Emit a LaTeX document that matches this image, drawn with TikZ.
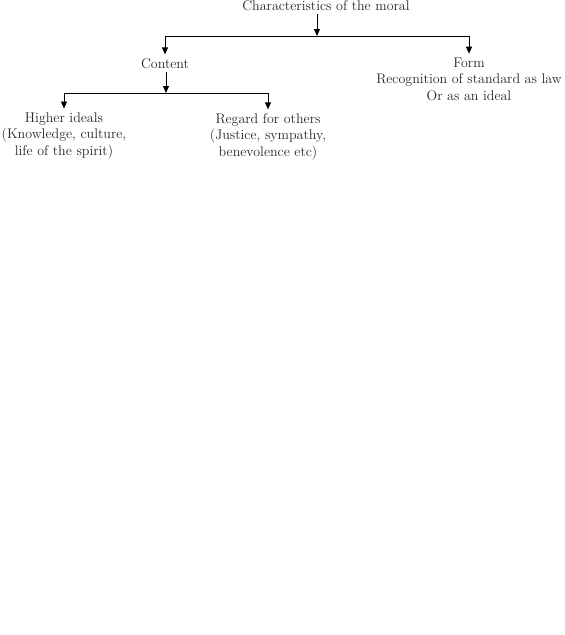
\documentclass[tikz,border=0pt]{standalone}
\usepackage{tikz}
\usetikzlibrary{arrows.meta}

\begin{document}
\begin{tikzpicture}[x=1pt,y=-1pt,line width=0.9pt,
        lbl/.style={align=center,anchor=base,font=\fontsize{14}{16.5}\selectfont,text=black!85},
        arr/.style={-{Triangle[length=7pt,width=6pt]}}]
        \useasboundingbox (0,0) rectangle (565,635);
        \node[lbl] (moral) at (326,10) {Characteristics of the moral};
        \node[lbl] (content) at (165,68) {Content};
        \node[lbl] (form) at (469,100) {Form\\Recognition of standard as law\\Or as an ideal};
        \node[lbl] (higher) at (64,155) {Higher ideals\\(Knowledge, culture,\\life of the spirit)};
        \node[lbl] (regard) at (268,156) {Regard for others\\(Justice, sympathy,\\benevolence etc)};
        \coordinate (fork1) at (317,36);
        \coordinate (fork2) at (166,93);
        % first level
        \draw[arr] (moral.south -| fork1) -- (fork1);
        \draw (content |- fork1) -- (form |- fork1);
        \draw[arr] (content |- fork1) -- (content.north);
        \draw[arr] (form |- fork1) -- (form.north);
        % second level
        \draw[arr] (content.south -| fork2) -- (fork2);
        \draw (higher |- fork2) -- (regard |- fork2);
        \draw[arr] (higher |- fork2) -- (higher.north);
        \draw[arr] (regard |- fork2) -- (regard.north);
    \end{tikzpicture}
\end{document}
